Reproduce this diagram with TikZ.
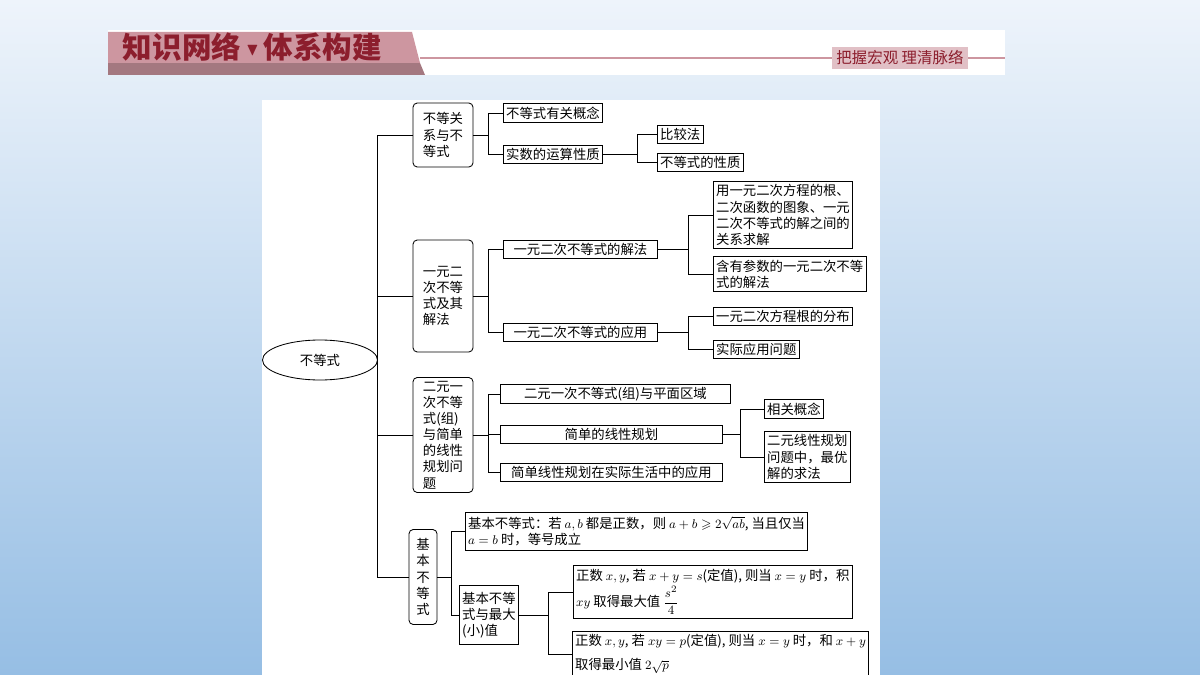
\documentclass[tikz,border=0pt]{standalone}
\usepackage{fontspec}
\usepackage{amssymb}
\setmainfont{Noto Sans CJK SC}
\usetikzlibrary{shapes.geometric}
\definecolor{bgtop}{RGB}{238,244,251}
\definecolor{bgbot}{RGB}{150,190,228}
\definecolor{tabred}{RGB}{205,150,160}
\definecolor{darkred}{RGB}{140,30,45}
\tikzset{
  box/.style={draw,semithick,inner sep=2pt,font=\fontsize{9.5}{11.5}\selectfont,align=left},
  lead/.style={box,rounded corners=3pt,align=left,minimum width=1.5cm},
  link/.style={semithick}
}
\begin{document}
\begin{tikzpicture}[x=0.025cm,y=-0.025cm]
\useasboundingbox (0,0) rectangle (1200,675);
\shade[top color=bgtop,bottom color=bgbot] (0,0) rectangle (1200,675);
% header
\fill[white] (108,30) rectangle (1005,75);
\fill[tabred!80!black] (108,63) -- (420,63) -- (425,75) -- (108,75) -- cycle;
\fill[tabred] (108,32) -- (412,32) -- (420,63) -- (108,63) -- cycle;
\draw[tabred,line width=1.5pt] (420,58) -- (1005,58);
\node[fill=tabred!60,inner sep=3pt,font=\fontsize{11}{12}\selectfont,text=darkred] (motto) at (900,58) {把握宏观\ 理清脉络};
\node[font=\fontsize{21}{22}\selectfont\bfseries,text=darkred,anchor=west] (title) at (118,47) {知识网络\,\raisebox{2pt}{\scalebox{0.6}{$\blacktriangledown$}}\,体系构建};
% panel
\fill[white] (262,100) rectangle (880,675);
\node[draw,semithick,ellipse,minimum width=115*0.025cm,minimum height=40*0.025cm,font=\fontsize{9.5}{11}\selectfont] (root) at (320,360) {不等式};
% first level
\node[lead,minimum height=64*0.025cm] (rel) at (443,135) {不等关\\系与不\\等式};
\node[lead,minimum height=112*0.025cm] (quad) at (443,296) {一元二\\次不等\\式及其\\解法};
\node[lead,minimum height=115*0.025cm] (lin) at (443,435) {二元一\\次不等\\式(组)\\与简单\\的线性\\规划问\\题};
\node[box,rounded corners=3pt,minimum width=28*0.025cm,minimum height=95*0.025cm,align=center] (basic) at (423,577) {基\\本\\不\\等\\式};
\draw[link] (root.east) -- (377,360);
\foreach \n in {rel,quad,lin,basic}
  \draw[link] (377,360) |- (\n.west);
% group 1
\node[box,anchor=west] (concept) at (503,113) {不等式有关概念};
\node[box,anchor=west] (arith) at (503,154) {实数的运算性质};
\node[box,anchor=west] (cmp) at (657,134) {比较法};
\node[box,anchor=west] (prop) at (657,162) {不等式的性质};
\draw[link] (rel.east) -- (488,135) |- (concept.west);
\draw[link] (488,135) |- (arith.west);
\draw[link] (arith.east) -- (637,154) |- (cmp.west);
\draw[link] (637,154) |- (prop.west);
% group 2
\node[box,anchor=west,minimum width=154*0.025cm,align=center] (solve) at (503,249) {一元二次不等式的解法};
\node[box,anchor=west,minimum width=154*0.025cm,align=center] (apply) at (503,332) {一元二次不等式的应用};
\node[box,anchor=west] (graph) at (713,215) {用一元二次方程的根、\\二次函数的图象、一元\\二次不等式的解之间的\\关系求解};
\node[box,anchor=west] (param) at (713,274) {含有参数的一元二次不等\\式的解法};
\node[box,anchor=west] (root2) at (713,316) {一元二次方程根的分布};
\node[box,anchor=west] (prac) at (713,349) {实际应用问题};
\draw[link] (quad.east) -- (488,296) |- (solve.west);
\draw[link] (488,296) |- (apply.west);
\draw[link] (solve.east) -- (688,249) |- (graph.west);
\draw[link] (688,249) |- (param.west);
\draw[link] (apply.east) -- (688,332) |- (root2.west);
\draw[link] (688,332) |- (prac.west);
% group 3
\node[box,anchor=west,minimum width=230*0.025cm,align=center] (region) at (500,394) {二元一次不等式(组)与平面区域};
\node[box,anchor=west,minimum width=222*0.025cm,align=center] (lp) at (500,434) {简单的线性规划};
\node[box,anchor=west,minimum width=222*0.025cm,align=center] (life) at (500,472) {简单线性规划在实际生活中的应用};
\node[box,anchor=west] (lpcon) at (764,409) {相关概念};
\node[box,anchor=west] (opt) at (764,457) {二元线性规划\\问题中，最优\\解的求法};
\draw[link] (lin.east) -- (488,435) |- (region.west);
\draw[link] (488,435) |- (lp.west);
\draw[link] (488,435) |- (life.west);
\draw[link] (lp.east) -- (740,434) |- (lpcon.west);
\draw[link] (740,434) |- (opt.west);
% group 4
\node[box,anchor=west,minimum height=38*0.025cm] (amgm) at (465,531) {基本不等式：若 $a,b$ 都是正数，则 $a+b\geqslant2\sqrt{ab}$, 当且仅当\\$a=b$ 时，等号成立};
\node[box,anchor=west,minimum height=59*0.025cm] (ext) at (459,615) {基本不等\\式与最大\\(小)值};
\node[box,anchor=west,minimum height=53*0.025cm,align=left] (max) at (573,592) {正数 $x,y$, 若 $x+y=s$(定值), 则当 $x=y$ 时，积\\[1pt]$xy$ 取得最大值 $\displaystyle\frac{s^2}{4}$};
\node[box,anchor=west,minimum height=46*0.025cm] (min) at (572,654) {正数 $x,y$, 若 $xy=p$(定值), 则当 $x=y$ 时，和 $x+y$\\[5pt]取得最小值 $2\sqrt{p}$};
\draw[link] (basic.east) -- (451,577) |- (amgm.west);
\draw[link] (451,577) |- (ext.west);
\draw[link] (ext.east) -- (548,615) |- (max.west);
\draw[link] (548,615) |- (min.west);
\end{tikzpicture}
\end{document}
